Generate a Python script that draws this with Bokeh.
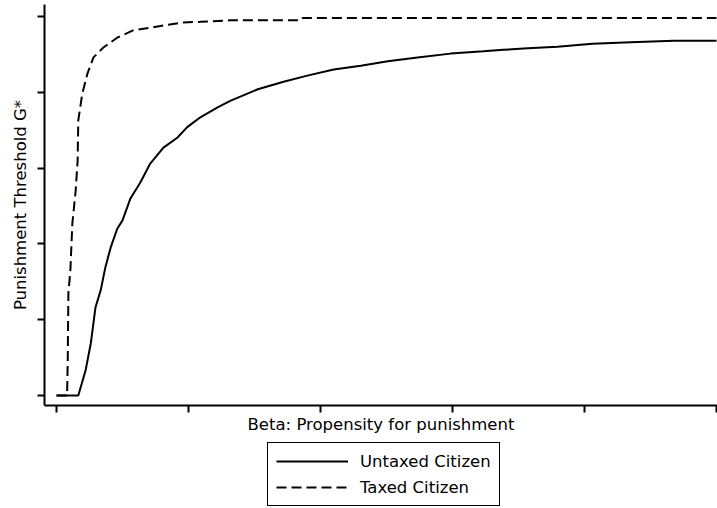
from bokeh.plotting import figure
from bokeh.layouts import column
from bokeh.models import Legend, LegendItem, Range1d, FixedTicker, CustomLabelingPolicy
from bokeh.embed import file_html
from bokeh.resources import INLINE

# Untaxed citizen (solid)
beta_untaxed = [0.0, 0.033, 0.044, 0.052, 0.059, 0.067, 0.074, 0.082, 0.092, 0.100,
                0.112, 0.127, 0.142, 0.162, 0.183, 0.198, 0.218, 0.244, 0.264, 0.283,
                0.305, 0.344, 0.380, 0.420, 0.461, 0.502, 0.547, 0.597, 0.647, 0.677,
                0.714, 0.759, 0.812, 0.870, 0.935, 1.0]
g_untaxed = [0.0, 0.0, 0.33, 0.69, 1.16, 1.39, 1.69, 1.95, 2.20, 2.31,
             2.60, 2.81, 3.06, 3.27, 3.40, 3.54, 3.67, 3.80, 3.89, 3.96,
             4.04, 4.14, 4.22, 4.30, 4.35, 4.41, 4.46, 4.51, 4.54, 4.56,
             4.58, 4.60, 4.64, 4.66, 4.68, 4.68]

# Taxed citizen (dashed)
beta_taxed = [0.0, 0.016, 0.017, 0.018, 0.021, 0.024, 0.029, 0.032, 0.033, 0.039,
              0.047, 0.056, 0.071, 0.092, 0.117, 0.142, 0.168, 0.192, 0.218, 0.264,
              0.370, 0.373, 1.0]
g_taxed = [0.0, 0.0, 0.46, 1.35, 1.65, 2.27, 2.70, 3.10, 3.63, 3.98,
           4.25, 4.46, 4.59, 4.72, 4.82, 4.85, 4.89, 4.92, 4.93, 4.95,
           4.95, 4.98, 4.98]

x_ticks = [0.0, 0.2, 0.4, 0.6, 0.8, 1.0]
y_ticks = [0, 1, 2, 3, 4, 5]

x_label = "Beta: Propensity for punishment"
y_label = "Punishment Threshold G*"
series_labels = ["Untaxed Citizen", "Taxed Citizen"]

FONT = "DejaVu Sans"
FSIZE = "16.5px"

p = figure(width=717, height=440,
           x_range=Range1d(-0.0182, 1.0015), y_range=Range1d(-0.132, 5.158),
           output_backend="svg", toolbar_location=None,
           min_border_left=44, min_border_right=0, min_border_top=4,
           min_border_bottom=35, background_fill_color="white",
           border_fill_color="white")

p.xgrid.visible = False
p.ygrid.visible = False
p.outline_line_color = None

no_labels = CustomLabelingPolicy(code="""
const all = [...indices];
for (const i of all) indices.unset(i);
return indices;
""")

p.xaxis.ticker = FixedTicker(ticks=x_ticks)
p.yaxis.ticker = FixedTicker(ticks=y_ticks)
p.xaxis.axis_label = x_label
p.yaxis.axis_label = y_label
for ax in (p.xaxis[0], p.yaxis[0]):
    ax.axis_line_width = 2
    ax.axis_line_color = "black"
    ax.major_tick_line_width = 2
    ax.major_tick_line_color = "black"
    ax.major_tick_out = 7
    ax.major_tick_in = 0
    ax.minor_tick_out = 0
    ax.minor_tick_in = 0
    ax.major_label_text_font_size = "0px"
    ax.major_label_standoff = 0
    ax.major_label_policy = no_labels
    ax.axis_label_text_font = FONT
    ax.axis_label_text_font_size = FSIZE
    ax.axis_label_text_font_style = "normal"
    ax.axis_label_text_color = "black"
p.xaxis.axis_label_standoff = 2
p.yaxis.axis_label_standoff = 8

p.line(beta_untaxed, g_untaxed, line_width=2, line_color="black")
p.line(beta_taxed, g_taxed, line_width=2, line_color="black", line_dash="10 5")

# Legend panel: a figure beneath the plot whose view range lies outside the
# data, so its two series only supply the legend's sample glyphs.
lf = figure(width=717, height=68, x_range=Range1d(5, 6), y_range=Range1d(5, 6),
            output_backend="svg", toolbar_location=None,
            x_axis_type=None, y_axis_type=None,
            min_border_left=0, min_border_right=0, min_border_top=0,
            min_border_bottom=0, background_fill_color="white",
            border_fill_color="white")
lf.grid.visible = False
lf.outline_line_color = None
k1 = lf.line(beta_untaxed, g_untaxed, line_width=2, line_color="black")
k2 = lf.line(beta_taxed, g_taxed, line_width=2, line_color="black", line_dash="10 5")

legend = Legend(items=[LegendItem(label=series_labels[0], renderers=[k1]),
                       LegendItem(label=series_labels[1], renderers=[k2])],
                location=(223, 2), orientation="vertical",
                border_line_color="black", border_line_width=1.5,
                border_line_alpha=1.0,
                glyph_width=72, glyph_height=20, label_height=20,
                spacing=6, padding=8, label_standoff=12,
                label_text_font=FONT, label_text_font_size=FSIZE,
                label_text_color="black",
                margin=0, background_fill_color="white")
lf.add_layout(legend, "center")

layout = column(p, lf, spacing=0)
open("out.html", "w").write(file_html(layout, INLINE))
